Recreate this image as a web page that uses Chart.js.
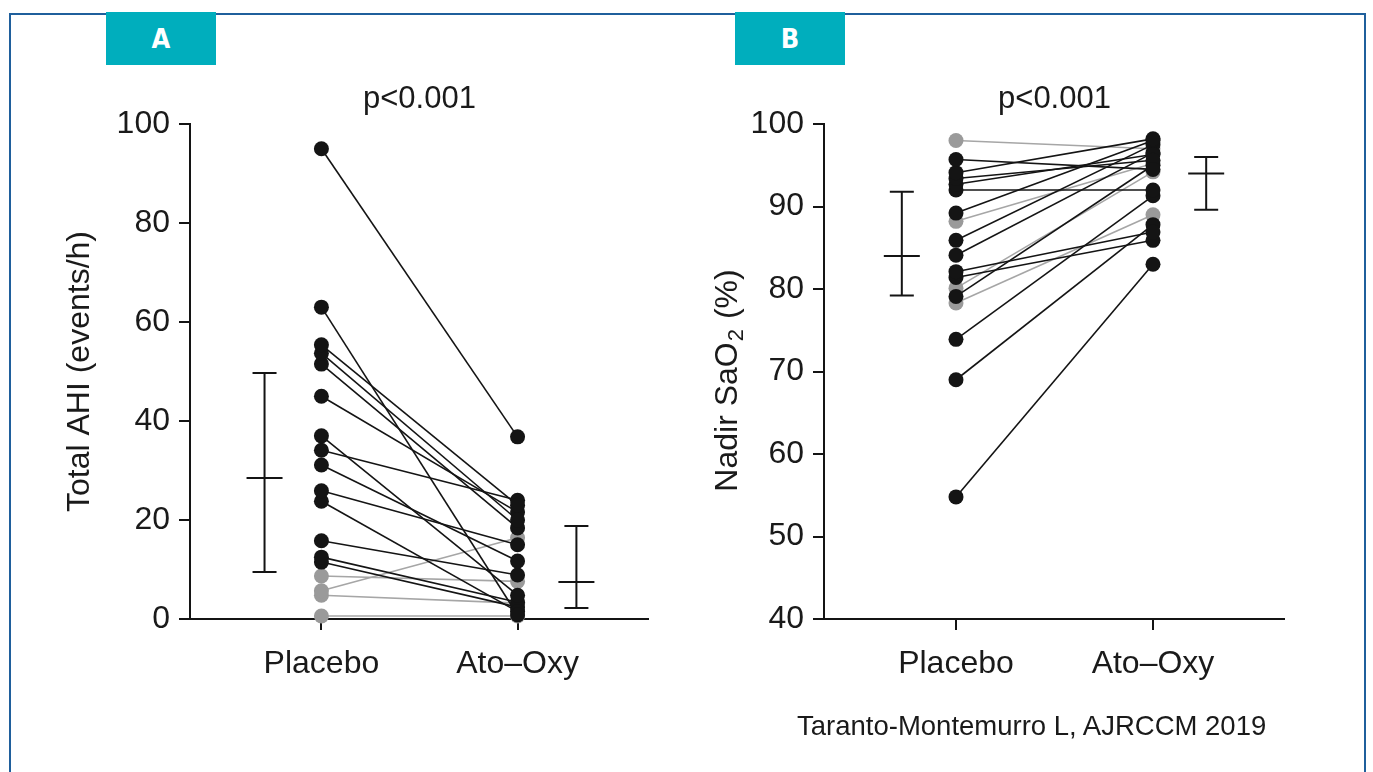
<!DOCTYPE html>
<html>
<head>
<meta charset="utf-8">
<script src="https://cdn.jsdelivr.net/npm/chart.js@4.4.1/dist/chart.umd.min.js"></script>
<style>
  html, body { margin: 0; padding: 0; background: #fff; }
  body { width: 1373px; height: 772px; position: relative; overflow: hidden; font-family: "Liberation Sans", Arial, sans-serif; }
  .frame { position: absolute; left: 9px; top: 13px; width: 1357px; height: 820px; border: 2px solid #1f5f9c; box-sizing: border-box; }
  .tab { position: absolute; top: 12px; width: 110px; height: 53px; background: #00aebd; color: #fff;
         font: bold 27px "DejaVu Sans Condensed", "DejaVu Sans", sans-serif; display: flex; align-items: center; justify-content: center; }
  #tabA { left: 106px; }
  #tabB { left: 735px; }
  canvas { position: absolute; top: 0; }
  #chartA { left: 0; }
  #chartB { left: 690px; }
  .cite { position: absolute; left: 797px; top: 712px; font-size: 27.5px; color: #1a1a1a; line-height: 1; white-space: nowrap; }
</style>
</head>
<body>
<div class="frame"></div>
<canvas id="chartA" width="690" height="772"></canvas>
<canvas id="chartB" width="683" height="772"></canvas>
<div class="tab" id="tabA">A</div>
<div class="tab" id="tabB">B</div>
<div class="cite">Taranto-Montemurro L, AJRCCM 2019</div>

<script>
var categories = ['Placebo', 'Ato\u2013Oxy'];

// panel A: total AHI per subject (events/h), 0 = black, 1 = grey
var ahiPlacebo = [95, 63, 55.4, 53.7, 51.5, 45, 37, 34.1, 31.1, 25.9, 23.8, 15.8, 12.5, 11.5, 8.7, 5.7, 4.8, 0.6];
var ahiAtoOxy  = [36.8, 0.8, 23, 20, 18.4, 21.6, 4.8, 24, 11.7, 15, 1.5, 8.9, 3.4, 2.4, 7.6, 16.4, 3.2, 0.6];
var ahiTone    = [0, 0, 0, 0, 0, 0, 0, 0, 0, 0, 0, 0, 0, 0, 1, 1, 1, 1];
// lower, mean, upper
var ahiPlaceboBar = [9.5, 28.5, 49.7];
var ahiAtoOxyBar  = [2.2, 7.5, 18.8];
var ahiTicks = [0, 20, 40, 60, 80, 100];

// panel B: nadir SaO2 per subject (%)
var saoPlacebo = [98, 95.7, 94.1, 93.4, 92.7, 92, 89.2, 85.9, 84.1, 82.1, 81.4, 79.1, 73.9, 69, 54.8, 88.2, 80.1, 78.3];
var saoAtoOxy  = [97, 94.5, 98.2, 95.6, 96.3, 92, 98, 97.5, 96.5, 86.9, 85.9, 95, 91.3, 87.8, 83, 95.2, 94.2, 89];
var saoTone    = [1, 0, 0, 0, 0, 0, 0, 0, 0, 0, 0, 0, 0, 0, 0, 1, 1, 1];
var saoPlaceboBar = [79.2, 84.0, 91.8];
var saoAtoOxyBar  = [89.6, 94.0, 96.0];
var saoTicks = [40, 50, 60, 70, 80, 90, 100];

var pText = 'p<0.001';

var INK = '#141414';
var GREY_PT = '#9a9a9a';
var GREY_LN = '#a6a6a6';
var FONT = '"Liberation Sans", Arial, sans-serif';

Chart.defaults.font.family = FONT;
Chart.defaults.color = '#1a1a1a';

function subjectSets(pre, post, tone) {
    var sets = [];
    // black ones first so the grey sit on top
    [0, 1].forEach(function (t) {
        for (var i = 0; i < pre.length; i++) {
            if (tone[i] !== t) continue;
            var ln = t ? GREY_LN : INK, pt = t ? GREY_PT : INK;
            sets.push({
                data: [{ x: 0, y: pre[i] }, { x: 1, y: post[i] }],
                showLine: true, borderColor: ln, borderWidth: 1.6,
                pointRadius: 7.5, pointBackgroundColor: pt, pointBorderColor: pt, pointBorderWidth: 0,
                clip: false
            });
        }
    });
    return sets;
}

// mean with min/max whiskers, plus the p value above the columns
var summaryPlugin = {
    id: 'summary',
    afterDatasetsDraw: function (chart, args, opts) {
        var ctx = chart.ctx, xs = chart.scales.x, ys = chart.scales.y;
        ctx.save();
        ctx.strokeStyle = INK;
        ctx.lineWidth = 2;
        opts.bars.forEach(function (b) {
            var x = xs.getPixelForValue(b.at);
            var lo = ys.getPixelForValue(b.v[0]), mid = ys.getPixelForValue(b.v[1]), hi = ys.getPixelForValue(b.v[2]);
            ctx.beginPath();
            ctx.moveTo(x, lo); ctx.lineTo(x, hi);
            ctx.moveTo(x - 12, lo); ctx.lineTo(x + 12, lo);
            ctx.moveTo(x - 12, hi); ctx.lineTo(x + 12, hi);
            ctx.moveTo(x - 18, mid); ctx.lineTo(x + 18, mid);
            ctx.stroke();
        });
        ctx.fillStyle = '#1a1a1a';
        ctx.font = '31px ' + FONT;
        ctx.textAlign = 'center';
        ctx.textBaseline = 'alphabetic';
        var cx = (xs.getPixelForValue(0) + xs.getPixelForValue(1)) / 2;
        ctx.fillText(pText, cx, chart.chartArea.top - 16);
        ctx.restore();
    }
};

// y title with a subscript, drawn by hand
var subTitlePlugin = {
    id: 'subTitle',
    afterDraw: function (chart, args, opts) {
        if (!opts.parts) return;
        var ctx = chart.ctx, ca = chart.chartArea;
        ctx.save();
        ctx.fillStyle = '#1a1a1a';
        ctx.textBaseline = 'middle';
        ctx.textAlign = 'left';
        var big = '32px ' + FONT, small = '22px ' + FONT;
        ctx.font = big; var w1 = ctx.measureText(opts.parts[0]).width;
        ctx.font = small; var w2 = ctx.measureText(opts.parts[1]).width;
        ctx.font = big; var w3 = ctx.measureText(opts.parts[2]).width;
        ctx.translate(opts.x, (ca.top + ca.bottom) / 2 + 10);
        ctx.rotate(-Math.PI / 2);
        var start = -(w1 + w2 + w3) / 2;
        ctx.font = big; ctx.fillText(opts.parts[0], start, 0);
        ctx.font = small; ctx.fillText(opts.parts[1], start + w1 + 1, 9);
        ctx.font = big; ctx.fillText(opts.parts[2], start + w1 + w2 + 2, 0);
        ctx.restore();
    }
};

function axisCommon() {
    return {
        grid: { drawOnChartArea: false, drawTicks: true, tickLength: 11, color: INK, lineWidth: 2 },
        border: { color: INK, width: 2 }
    };
}

function makeChart(id, cfg) {
    var xAxis = axisCommon(), yAxis = axisCommon();
    xAxis.type = 'linear';
    xAxis.min = -0.67;
    xAxis.max = 1.665;
    xAxis.afterBuildTicks = function (s) { s.ticks = categories.map(function (c, i) { return { value: i }; }); };
    xAxis.ticks = { callback: function (v) { return categories[v]; }, font: { size: 32 }, padding: 15, maxRotation: 0, autoSkip: false };
    xAxis.afterFit = function (s) { s.height = 153; };

    yAxis.min = cfg.yTicks[0];
    yAxis.max = cfg.yTicks[cfg.yTicks.length - 1];
    yAxis.afterBuildTicks = function (s) { s.ticks = cfg.yTicks.map(function (v) { return { value: v }; }); };
    yAxis.ticks = { font: { size: 32 }, padding: 9 };
    yAxis.title = cfg.yTitle ? { display: true, text: cfg.yTitle, font: { size: 32 }, padding: { top: 61, bottom: 0 } } : { display: false };
    yAxis.afterFit = function (s) { s.width = cfg.yWidth; };

    return new Chart(document.getElementById(id), {
        type: 'scatter',
        data: { datasets: subjectSets(cfg.pre, cfg.post, cfg.tone) },
        options: {
            responsive: false,
            animation: false,
            layout: { padding: { left: 0, right: cfg.padRight, top: 124, bottom: 0 } },
            plugins: {
                legend: { display: false },
                tooltip: { enabled: false },
                summary: { bars: cfg.bars },
                subTitle: cfg.subTitle || {}
            },
            scales: { x: xAxis, y: yAxis }
        },
        plugins: [summaryPlugin, subTitlePlugin]
    });
}

makeChart('chartA', {
    pre: ahiPlacebo, post: ahiAtoOxy, tone: ahiTone,
    yTicks: ahiTicks, yTitle: 'Total AHI (events/h)', yWidth: 190, padRight: 42,
    bars: [{ at: -0.29, v: ahiPlaceboBar }, { at: 1.3, v: ahiAtoOxyBar }]
});

makeChart('chartB', {
    pre: saoPlacebo, post: saoAtoOxy, tone: saoTone,
    yTicks: saoTicks, yTitle: null, yWidth: 134, padRight: 89,
    bars: [{ at: -0.275, v: saoPlaceboBar }, { at: 1.27, v: saoAtoOxyBar }],
    subTitle: { x: 38, parts: ['Nadir SaO', '2', ' (%)'] }
});
</script>
</body>
</html>
